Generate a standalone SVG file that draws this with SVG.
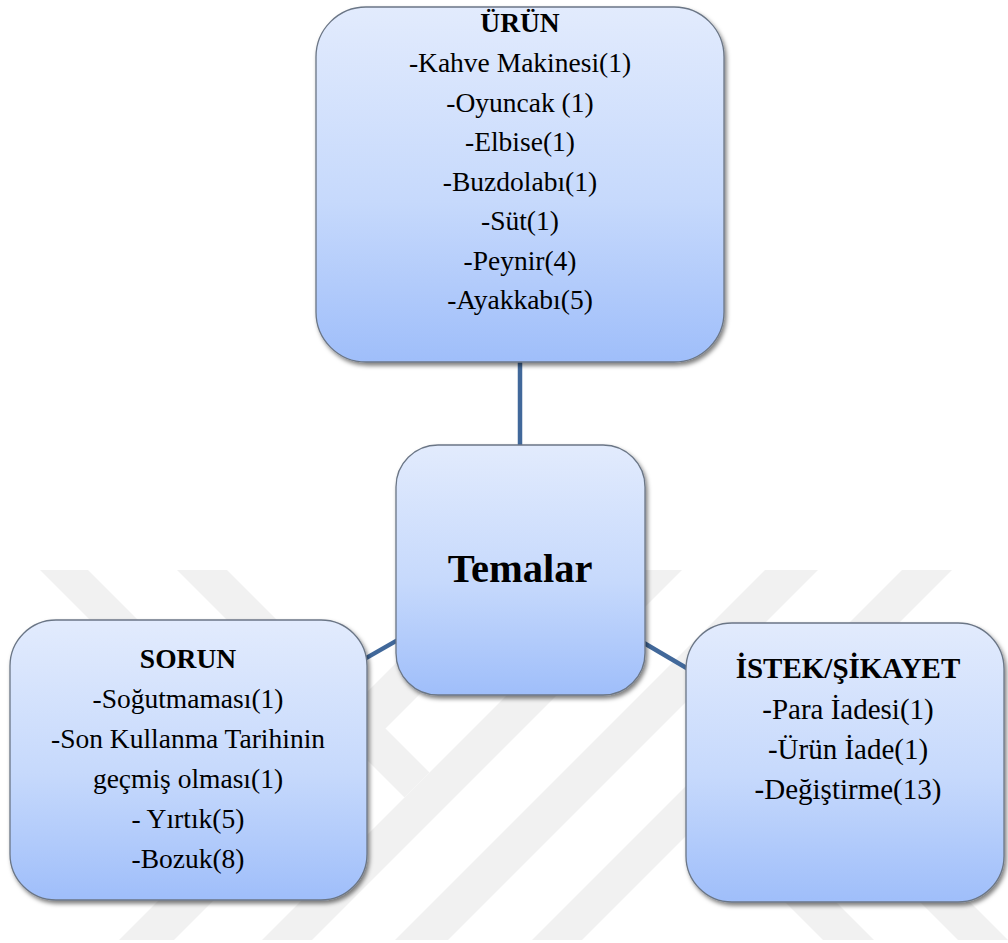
<svg xmlns="http://www.w3.org/2000/svg" width="1008" height="943" viewBox="0 0 1008 943">
  <defs>
    <linearGradient id="boxFill" x1="0" y1="0" x2="0" y2="1">
      <stop offset="0" stop-color="#e2ebfd"/>
      <stop offset="0.55" stop-color="#c6d9fc"/>
      <stop offset="1" stop-color="#9fbefa"/>
    </linearGradient>
    <filter id="shadow" x="-10%" y="-10%" width="125%" height="125%">
      <feDropShadow dx="2" dy="3" stdDeviation="2.2" flood-color="#000000" flood-opacity="0.5"/>
    </filter>
    <clipPath id="wmClip">
      <rect x="0" y="570" width="1008" height="370"/>
    </clipPath>
  </defs>
  <style>
    .box { fill: url(#boxFill); stroke: #6b7686; stroke-width: 1.3; filter: url(#shadow); }
    .conn { stroke: #41689a; stroke-width: 4.5; fill: none; }
    .wm { fill: #f1f1f1; }
    text { font-family: "Liberation Serif", "Times New Roman", serif; fill: #000000; text-anchor: middle; }
    .t { font-size: 27.5px; }
    .tb { font-size: 27.5px; font-weight: bold; }
    .r { font-size: 29px; }
    .rb { font-size: 29px; font-weight: bold; }
    .big { font-size: 40.5px; font-weight: bold; }
  </style>

  <rect x="0" y="0" width="1008" height="943" fill="#ffffff"/>

  <g id="watermark" clip-path="url(#wmClip)">
    <polygon class="wm" points="489,570 544,570 174,940 119,940"/>
    <polygon class="wm" points="632,570 682,570 312,940 262,940"/>
    <polygon class="wm" points="765,570 818,570 448,940 395,940"/>
    <polygon class="wm" points="902,570 952,570 582,940 532,940"/>
    <polygon class="wm" points="40,570 88,570 288.5,770.5 264.5,794.5"/>
    <polygon class="wm" points="177,570 227,570 429.5,772.5 404.5,797.5"/>
    <polygon class="wm" points="823,940 874,940 728,794 702.5,819.5"/>
    <polygon class="wm" points="958,940 1008,940 862.5,794.5 837.5,819.5"/>
  </g>

  <g id="connectors">
    <line class="conn" x1="520" y1="184" x2="520" y2="570"/>
    <line class="conn" x1="520" y1="570" x2="188" y2="760"/>
    <line class="conn" x1="520" y1="570" x2="846" y2="762"/>
  </g>

  <g id="node-urun">
    <rect class="box" x="316" y="7" width="408" height="355" rx="50" ry="50"/>
    <text class="tb" x="520" y="32">ÜRÜN</text>
    <text class="t" x="520" y="72">-Kahve Makinesi(1)</text>
    <text class="t" x="520" y="111.5">-Oyuncak (1)</text>
    <text class="t" x="520" y="151">-Elbise(1)</text>
    <text class="t" x="520" y="190.5">-Buzdolabı(1)</text>
    <text class="t" x="520" y="230">-Süt(1)</text>
    <text class="t" x="520" y="269.5">-Peynir(4)</text>
    <text class="t" x="520" y="309">-Ayakkabı(5)</text>
  </g>

  <g id="node-temalar">
    <rect class="box" x="396" y="445" width="249" height="250" rx="42" ry="42"/>
    <text class="big" x="520" y="582">Temalar</text>
  </g>

  <g id="node-sorun">
    <rect class="box" x="10" y="620" width="357" height="280" rx="46" ry="46"/>
    <text class="tb" x="188" y="668">SORUN</text>
    <text class="t" x="188" y="708">-Soğutmaması(1)</text>
    <text class="t" x="188" y="748">-Son Kullanma Tarihinin</text>
    <text class="t" x="188" y="788">geçmiş olması(1)</text>
    <text class="t" x="188" y="828">- Yırtık(5)</text>
    <text class="t" x="188" y="868">-Bozuk(8)</text>
  </g>

  <g id="node-istek">
    <rect class="box" x="686" y="623" width="318" height="279" rx="46" ry="46"/>
    <text class="rb" x="848" y="678">İSTEK/ŞİKAYET</text>
    <text class="r" x="848" y="719">-Para İadesi(1)</text>
    <text class="r" x="848" y="759">-Ürün İade(1)</text>
    <text class="r" x="848" y="799">-Değiştirme(13)</text>
  </g>
</svg>
